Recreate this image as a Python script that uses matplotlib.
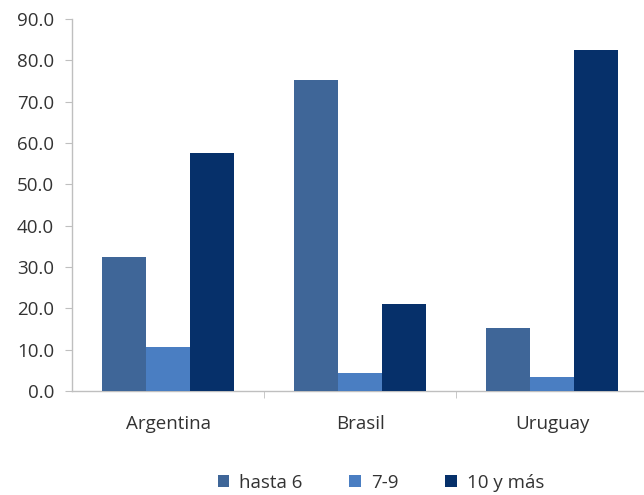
import numpy as np
import matplotlib.pyplot as plt
from matplotlib.patches import Patch

# Data
paises = ['Argentina', 'Brasil', 'Uruguay']
series = ['hasta 6', '7-9', '10 y más']
hasta_6 = [32.5, 75.2, 15.2]
de_7_a_9 = [10.7, 4.4, 3.4]
diez_y_mas = [57.6, 21.1, 82.5]
colores = ['#3F6698', '#4A7EC2', '#06306A']

plt.rcParams['font.family'] = ['Open Sans', 'DejaVu Sans']

fig = plt.figure(figsize=(6.44, 4.95), dpi=100)
# plot area runs past the right edge of the figure
ax = fig.add_axes([72 / 644, 1 - 391 / 495, 576 / 644, 372 / 495])

x = np.arange(len(paises))
ancho = 0.229
for i, (vals, nombre) in enumerate(zip([hasta_6, de_7_a_9, diez_y_mas], series)):
    ax.bar(x + (i - 1) * ancho, vals, ancho, color=colores[i], label=nombre, zorder=3)

ax.set_xlim(-0.5, 2.5)
ax.set_ylim(0, 90)
ax.set_yticks(np.arange(0, 91, 10))
ax.set_yticklabels([f'{v:.1f}' for v in np.arange(0, 91, 10)])
ax.set_xticks(x)
ax.set_xticklabels(paises)
ax.set_xticks([0.5, 1.5], minor=True)

for s in ['top', 'right']:
    ax.spines[s].set_visible(False)
for s in ['left', 'bottom']:
    ax.spines[s].set_color('#BFBFBF')
    ax.spines[s].set_linewidth(1.0)

ax.tick_params(axis='y', colors='#BFBFBF', labelcolor='#333333', labelsize=13.5, length=5, pad=8)
ax.tick_params(axis='x', which='major', length=0, labelcolor='#333333', labelsize=13.5, pad=17)
ax.tick_params(axis='x', which='minor', length=5, color='#BFBFBF')

handles = [Patch(facecolor=c, label=n) for c, n in zip(colores, series)]
fig.legend(handles=handles, loc='center', bbox_to_anchor=(381 / 644, 1 - 483 / 495),
           ncol=3, frameon=False, fontsize=13.5, handlelength=0.6, handleheight=0.6,
           handletextpad=0.55, columnspacing=2.5, labelcolor='#333333')

fig.savefig('out.png', dpi=100)
